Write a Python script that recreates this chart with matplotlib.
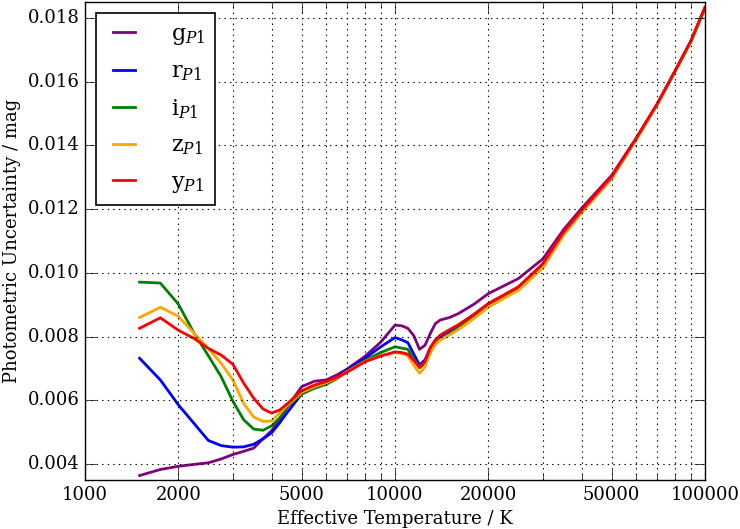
import matplotlib
matplotlib.use("Agg")
import matplotlib.pyplot as plt
from matplotlib.ticker import FixedLocator, FixedFormatter, LogLocator, NullFormatter

plt.style.use('classic')
plt.rcParams['font.family'] = 'serif'
plt.rcParams['font.serif'] = ['DejaVu Serif']
plt.rcParams['mathtext.fontset'] = 'dejavuserif'

temperature = [1500, 1750, 2000, 2250, 2500, 2750, 3000, 3250, 3500, 3750, 4000, 4250, 4500,
               5000, 5500, 6000, 6500, 7000, 8000, 9000, 10000, 10500, 11000, 11500, 12000,
               12500, 13000, 13500, 14000, 15000, 16000, 18000, 20000, 25000, 30000, 35000,
               40000, 50000, 60000, 70000, 80000, 90000, 100000]

g_p1 = [0.00364, 0.00383, 0.00393, 0.00399, 0.00404, 0.00416, 0.0043, 0.0044, 0.0045, 0.00479,
        0.00505, 0.0054, 0.0058, 0.00643, 0.0066, 0.00664, 0.0068, 0.00698, 0.00738, 0.00783,
        0.00836, 0.00834, 0.00826, 0.00803, 0.0076, 0.00773, 0.0081, 0.00841, 0.00852, 0.0086,
        0.00872, 0.00902, 0.00935, 0.00982, 0.01044, 0.01136, 0.01203, 0.01306, 0.01423, 0.01529,
        0.01633, 0.01727, 0.01833]
r_p1 = [0.00732, 0.00664, 0.00586, 0.00527, 0.00474, 0.00458, 0.00453, 0.00454, 0.00462, 0.00479,
        0.00498, 0.0053, 0.00563, 0.0062, 0.0064, 0.00655, 0.00672, 0.00695, 0.00732, 0.00768,
        0.00797, 0.0079, 0.00781, 0.00745, 0.00711, 0.00727, 0.00765, 0.00789, 0.008, 0.00818,
        0.00835, 0.0087, 0.00902, 0.00955, 0.01025, 0.01125, 0.01193, 0.01299, 0.0142, 0.01527,
        0.01632, 0.01726, 0.01832]
i_p1 = [0.00971, 0.00968, 0.00902, 0.0081, 0.0074, 0.00674, 0.00597, 0.00539, 0.0051, 0.00506,
        0.0052, 0.00545, 0.0058, 0.0062, 0.00638, 0.0065, 0.00668, 0.0069, 0.00725, 0.0075,
        0.00768, 0.00764, 0.0076, 0.0073, 0.00702, 0.00716, 0.0076, 0.00784, 0.0079, 0.00808,
        0.00826, 0.0086, 0.00893, 0.00948, 0.01018, 0.0112, 0.0119, 0.01297, 0.01419, 0.01527,
        0.01632, 0.01726, 0.01832]
z_p1 = [0.0086, 0.00892, 0.00864, 0.0081, 0.00763, 0.00716, 0.00664, 0.0059, 0.00548, 0.00534,
        0.00535, 0.0056, 0.00585, 0.00625, 0.00643, 0.00655, 0.0067, 0.0069, 0.00722, 0.0074,
        0.0075, 0.00747, 0.0074, 0.0071, 0.00685, 0.00705, 0.0075, 0.00775, 0.00789, 0.00805,
        0.00822, 0.00857, 0.00893, 0.00945, 0.01016, 0.0112, 0.0119, 0.01296, 0.01418, 0.01526,
        0.01631, 0.01725, 0.01831]
y_p1 = [0.00826, 0.00859, 0.0082, 0.00794, 0.00763, 0.00742, 0.00713, 0.00654, 0.00607, 0.00573,
        0.0056, 0.0057, 0.0059, 0.0063, 0.00648, 0.00659, 0.00672, 0.00688, 0.00721, 0.00739,
        0.00752, 0.0075, 0.00745, 0.00725, 0.00704, 0.00721, 0.00765, 0.00789, 0.00805, 0.00822,
        0.00837, 0.0087, 0.00904, 0.00956, 0.01029, 0.01128, 0.01196, 0.01302, 0.01422, 0.01529,
        0.01633, 0.01727, 0.01833]

series = [
    (g_p1, 'purple', r'g$_{P1}$'),
    (r_p1, 'blue', r'r$_{P1}$'),
    (i_p1, 'green', r'i$_{P1}$'),
    (z_p1, 'orange', r'z$_{P1}$'),
    (y_p1, 'red', r'y$_{P1}$'),
]

x_ticks = [1000, 2000, 5000, 10000, 20000, 50000, 100000]
x_tick_labels = ['1000', '2000', '5000', '10000', '20000', '50000', '100000']
y_ticks = [0.004, 0.006, 0.008, 0.010, 0.012, 0.014, 0.016, 0.018]
y_tick_labels = ['0.004', '0.006', '0.008', '0.010', '0.012', '0.014', '0.016', '0.018']

fig = plt.figure(figsize=(7.4, 5.29), dpi=100, facecolor='white')
ax = fig.add_subplot(111)
fig.subplots_adjust(left=85/740, right=705/740, bottom=1-480/529, top=1-2/529)

for vals, col, lab in series:
    ax.plot(temperature, vals, color=col, lw=2, label=lab)

ax.set_xscale('log')
ax.set_xlim(1000, 100000)
ax.set_ylim(0.0035, 0.0185)
ax.xaxis.set_major_locator(FixedLocator(x_ticks))
ax.xaxis.set_major_formatter(FixedFormatter(x_tick_labels))
ax.xaxis.set_minor_locator(LogLocator(base=10, subs=range(2, 10)))
ax.xaxis.set_minor_formatter(NullFormatter())
ax.yaxis.set_major_locator(FixedLocator(y_ticks))
ax.yaxis.set_major_formatter(FixedFormatter(y_tick_labels))

ax.tick_params(axis='both', which='major', labelsize=13, direction='in', length=8)
ax.tick_params(axis='x', which='minor', direction='in', length=4)
ax.grid(True, which='major', linestyle=':', color='black', lw=0.8)
ax.grid(True, which='minor', axis='x', linestyle=':', color='black', lw=0.8)

ax.set_xlabel('Effective Temperature / K', fontsize=13)
ax.set_ylabel('Photometric Uncertainty / mag', fontsize=13)

leg = ax.legend(loc='upper left', fontsize=16, labelspacing=0.62, handlelength=1.6,
                borderaxespad=0.5, handletextpad=1.3, borderpad=0.45)
leg.get_frame().set_linewidth(1.2)

fig.savefig('out.png', dpi=100, facecolor='white')
